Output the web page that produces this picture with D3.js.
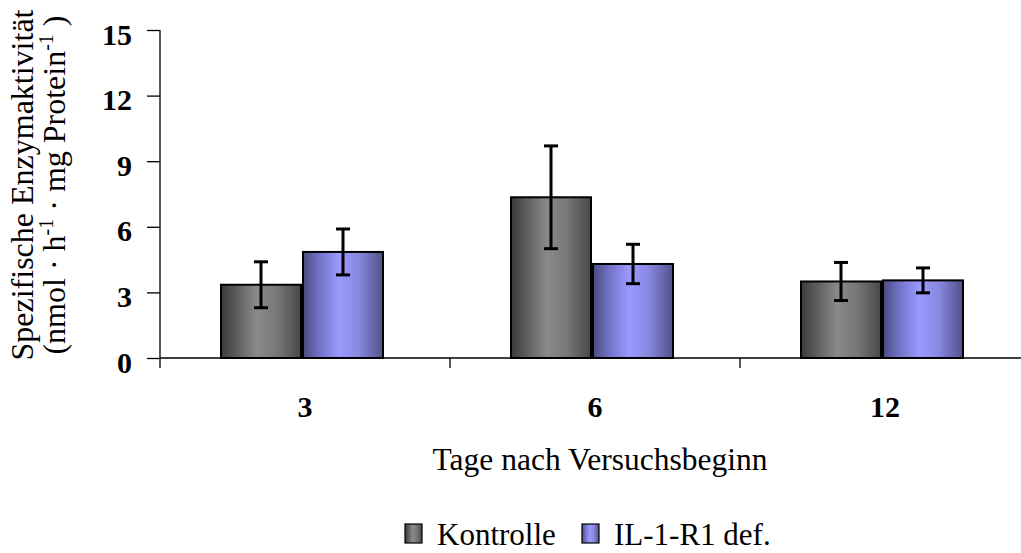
<!DOCTYPE html>
<html>
<head>
<meta charset="utf-8">
<script src="https://cdn.jsdelivr.net/npm/d3@7"></script>
<style>
  body { margin: 0; background: #fff; }
</style>
</head>
<body>
<div id="chart"></div>
<script>
// data
var days = ["3", "6", "12"];
var groups = ["Kontrolle", "IL-1-R1 def."];
var kontrolle = [3.35, 7.35, 3.5];
var kontrolleErr = [1.05, 2.35, 0.87];
var il1r1 = [4.85, 4.3, 3.55];
var il1r1Err = [1.05, 0.9, 0.57];
var yTicks = [0, 3, 6, 9, 12, 15];

var FONT = "'Liberation Serif', 'Times New Roman', Times, serif";
var width = 1021, height = 553;
var margin = {top: 30, left: 160, bottom: 195};
var plotH = height - margin.top - margin.bottom;

var svg = d3.select("#chart").append("svg")
  .attr("width", width)
  .attr("height", height)
  .style("font-family", FONT);

var defs = svg.append("defs");
function grad(id, stops) {
  var g = defs.append("linearGradient").attr("id", id)
    .attr("x1", "0%").attr("x2", "100%").attr("y1", "0%").attr("y2", "0%");
  stops.forEach(function(s) {
    g.append("stop").attr("offset", s[0]).attr("stop-color", s[1]);
  });
}
grad("gGray", [["0%", "#3a3a3a"], ["20%", "#5e5e5e"], ["45%", "#8a8a8a"], ["70%", "#777"], ["100%", "#484848"]]);
grad("gBlue", [["0%", "#4a4a80"], ["20%", "#7272c8"], ["45%", "#9a9aff"], ["70%", "#8888e0"], ["100%", "#50508a"]]);

var x = d3.scaleBand().domain(days).range([margin.left, margin.left + 870]);
var y = d3.scaleLinear().domain([0, 15]).range([margin.top + plotH, margin.top]);
var barW = 80;
var shift = -3; // bar pairs sit slightly left of the label centres

var g = svg.append("g");

var series = [
  {name: groups[0], vals: kontrolle, err: kontrolleErr, fill: "url(#gGray)", off: -barW - 1},
  {name: groups[1], vals: il1r1, err: il1r1Err, fill: "url(#gBlue)", off: 1}
];

// bars
series.forEach(function(s) {
  g.selectAll(null)
    .data(days)
    .enter().append("rect")
    .attr("x", function(d) { return x(d) + x.bandwidth() / 2 + s.off + shift; })
    .attr("y", function(d, i) { return y(s.vals[i]); })
    .attr("width", barW)
    .attr("height", function(d, i) { return y(0) - y(s.vals[i]); })
    .attr("fill", s.fill)
    .attr("stroke", "#000")
    .attr("stroke-width", 2);
});

// error bars
series.forEach(function(s) {
  var eb = g.selectAll(null)
    .data(days)
    .enter().append("g")
    .attr("transform", function(d) {
      return "translate(" + (x(d) + x.bandwidth() / 2 + s.off + shift + barW / 2) + ",0)";
    })
    .attr("stroke", "#000")
    .attr("stroke-width", 3);
  eb.append("line")
    .attr("y1", function(d, i) { return y(s.vals[i] + s.err[i]); })
    .attr("y2", function(d, i) { return y(s.vals[i] - s.err[i]); });
  eb.append("line").attr("x1", -7).attr("x2", 7)
    .attr("y1", function(d, i) { return y(s.vals[i] + s.err[i]); })
    .attr("y2", function(d, i) { return y(s.vals[i] + s.err[i]); });
  eb.append("line").attr("x1", -7).attr("x2", 7)
    .attr("y1", function(d, i) { return y(s.vals[i] - s.err[i]); })
    .attr("y2", function(d, i) { return y(s.vals[i] - s.err[i]); });
});

// y axis
var yAxis = svg.append("g")
  .attr("transform", "translate(" + margin.left + ",0)")
  .call(d3.axisLeft(y).tickValues(yTicks).tickSize(13).tickPadding(15));
yAxis.attr("font-family", null).attr("font-size", null);
yAxis.select(".domain").attr("d", "M0," + y(15) + "V" + (y(0) + 10)).attr("stroke-width", 1.3);
yAxis.selectAll(".tick line").attr("stroke-width", 1.3);
yAxis.selectAll("text")
  .attr("dy", "0.47em")
  .style("font-size", "30px").style("font-weight", "bold");

// x axis
var xAxis = svg.append("g")
  .attr("transform", "translate(0," + y(0) + ")")
  .call(d3.axisBottom(x).tickSize(0).tickPadding(38));
xAxis.attr("font-family", null).attr("font-size", null);
xAxis.select(".domain").attr("d", "M" + margin.left + ",0H" + width).attr("stroke-width", 1.3);
xAxis.selectAll("text")
  .style("font-size", "30px").style("font-weight", "bold");
// category separators
xAxis.selectAll(null)
  .data(days.slice(1))
  .enter().append("line")
  .attr("x1", function(d) { return x(d); })
  .attr("x2", function(d) { return x(d); })
  .attr("y1", 0).attr("y2", 10)
  .attr("stroke", "#000").attr("stroke-width", 1.3);

// axis titles
svg.append("text")
  .attr("x", 600).attr("y", 470)
  .attr("text-anchor", "middle")
  .style("font-size", "31.5px")
  .text("Tage nach Versuchsbeginn");

var yl = svg.append("text")
  .attr("transform", "translate(0,185) rotate(-90)")
  .attr("text-anchor", "middle")
  .style("font-size", "32px");
yl.append("tspan").attr("x", 0).attr("y", 33).text("Spezifische Enzymaktivität");
yl.append("tspan").attr("x", 0).attr("y", 65).text("(nmol · h");
yl.append("tspan").attr("dy", -12).style("font-size", "20px").text("-1");
yl.append("tspan").attr("dy", 12).text(" · mg Protein");
yl.append("tspan").attr("dy", -12).style("font-size", "20px").text("-1");
yl.append("tspan").attr("dy", 12).text(" )");

// legend
var legend = svg.append("g").attr("transform", "translate(405,524)");
var lg = legend.selectAll(null)
  .data(series)
  .enter().append("g")
  .attr("transform", function(d, i) { return "translate(" + (i * 177) + ",0)"; });
lg.append("rect")
  .attr("width", 17).attr("height", 19)
  .attr("fill", function(d) { return d.fill; })
  .attr("stroke", "#000").attr("stroke-width", 1.2);
lg.append("text")
  .attr("x", 32).attr("y", 21)
  .style("font-size", "31px")
  .text(function(d) { return d.name; });
</script>
</body>
</html>
